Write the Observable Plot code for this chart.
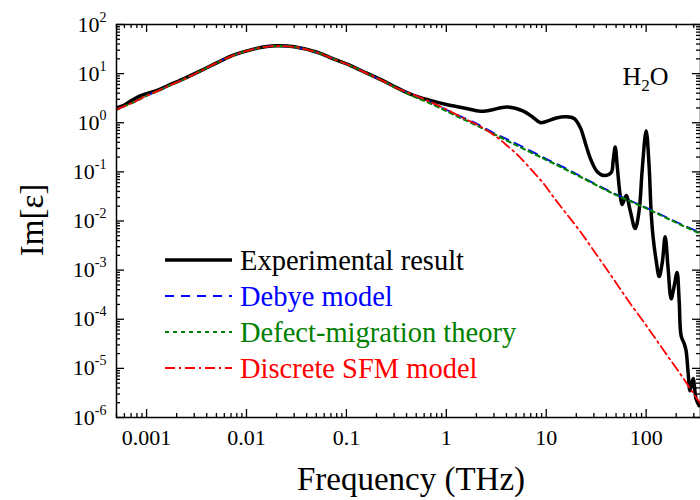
<!DOCTYPE html>
<html><head><meta charset="utf-8">
<script src="https://cdn.jsdelivr.net/npm/d3@7"></script>
<script src="https://cdn.jsdelivr.net/npm/@observablehq/plot@0.6"></script>
<style>body{margin:0;background:#fff;}</style>
</head><body><div id="chart"></div>
<script>
// ---- data ----
const expFreq = [0.0005, 0.0006, 0.00072, 0.00085, 0.001, 0.0013, 0.0016, 0.0024, 0.0035, 0.0051, 0.0075, 0.011, 0.016, 0.020, 0.030, 0.051, 0.074, 0.11, 0.16, 0.23, 0.33, 0.47, 0.69, 1.0, 1.5, 2.2, 2.75, 4.07, 5.9, 7.4, 8.7, 10, 12.6, 15.8, 19, 21.9, 25.1, 28.2, 32.4, 38, 44.7, 46.8, 49, 51.3, 55, 57.5, 63.1, 69.2, 77.6, 85.1, 91.2, 100, 107, 112, 117, 126, 135, 145, 155, 166, 178, 191, 204, 214, 224, 240, 251, 263, 275, 295, 316, 339];
const expIm = [2.0, 2.3, 2.9, 3.5, 3.9, 4.6, 5.6, 8.0, 11.5, 16.8, 24, 30.5, 35.5, 36.8, 35.3, 27.2, 20, 14.6, 10.2, 7.3, 5.0, 3.6, 2.85, 2.35, 2.0, 1.71, 1.8, 2.09, 1.73, 1.28, 1.01, 1.06, 1.25, 1.32, 1.22, 0.80, 0.34, 0.17, 0.101, 0.084, 0.097, 0.17, 0.32, 0.134, 0.033, 0.0216, 0.033, 0.0163, 0.0070, 0.0163, 0.106, 0.69, 0.134, 0.0163, 0.00505, 0.00156, 0.00074, 0.00142, 0.0048, 0.00107, 0.00026, 0.00048, 0.00089, 0.00024, 4.6e-5, 3.2e-5, 2.3e-5, 8.2e-6, 3.5e-6, 6.2e-6, 2.4e-6, 1.74e-6];

const debyeFreq = [0.0005, 0.00075, 0.001, 0.0013, 0.0016, 0.0024, 0.0035, 0.0051, 0.0075, 0.011, 0.016, 0.020, 0.030, 0.051, 0.074, 0.11, 0.16, 0.23, 0.30, 0.44, 0.64, 0.87, 1.33, 2.03, 2.86, 3.89, 5.1, 7.46, 10.2, 14.9, 21.9, 47, 101, 219, 350];
const debyeIm = [1.85, 2.65, 3.55, 4.45, 5.45, 7.8, 11.4, 16.8, 23.8, 30.5, 35.3, 36.5, 35, 27, 20, 14.5, 10.1, 7.2, 5.4, 3.9, 2.85, 2.1, 1.40, 0.95, 0.65, 0.48, 0.37, 0.25, 0.18, 0.125, 0.082, 0.037, 0.0185, 0.0088, 0.0058];

const defectFreq = [0.0005, 0.00075, 0.001, 0.0013, 0.0016, 0.0024, 0.0035, 0.0051, 0.0075, 0.011, 0.016, 0.020, 0.030, 0.051, 0.074, 0.11, 0.16, 0.23, 0.30, 0.47, 0.70, 1.14, 2.19, 4.37, 10.2, 20.3, 47, 101, 219, 350];
const defectIm = [1.85, 2.65, 3.55, 4.45, 5.45, 7.8, 11.4, 16.8, 23.8, 30.5, 35.3, 36.5, 35, 27, 20, 14.5, 10.1, 7.2, 5.4, 3.45, 2.45, 1.52, 0.81, 0.40, 0.172, 0.086, 0.036, 0.018, 0.0085, 0.0055];

const sfmFreq = [0.0005, 0.00075, 0.001, 0.0013, 0.0016, 0.0024, 0.0035, 0.0051, 0.0075, 0.011, 0.016, 0.020, 0.030, 0.051, 0.074, 0.11, 0.16, 0.23, 0.30, 0.55, 0.87, 1.4, 2.19, 3.24, 4.07, 5.25, 6.92, 9.33, 11.7, 15.5, 21.9, 32.4, 46.8, 69.2, 102, 155, 219, 275, 350];
const sfmIm = [1.85, 2.65, 3.55, 4.45, 5.45, 7.8, 11.4, 16.8, 23.8, 30.5, 35.3, 36.5, 35, 27, 20, 14.5, 10.1, 7.2, 5.4, 3.26, 2.15, 1.32, 0.84, 0.50, 0.34, 0.215, 0.117, 0.059, 0.0316, 0.0151, 0.0061, 0.00197, 0.00067, 0.00021, 7.1e-5, 2.1e-5, 7.8e-6, 3.9e-6, 1.9e-6];

const xTickValues = [0.001, 0.01, 0.1, 1, 10, 100];
const xTickLabels = ["0.001", "0.01", "0.1", "1", "10", "100"];
const yExponents = [-6, -5, -4, -3, -2, -1, 0, 1, 2];

const seriesNames = ["Experimental result", "Debye model", "Defect-migration theory", "Discrete SFM model"];
const seriesColors = ["#000000", "#0000ff", "#008000", "#ff0000"];
const seriesDash = [null, "9,7", "4,4", "10,4,2,4"];
const seriesWidth = [3.5, 1.8, 2.2, 1.8];

// ---- build ----
const W = 700, H = 500, mL = 116, mR = 0, mT = 24, mB = 83;
const plotW = W - mL - mR, plotH = H - mT - mB;
const yTickValues = yExponents.map(e => Math.pow(10, e));
const xMinor = [], yMinor = [];
for (let e = -4; e <= 2; e++) for (let m = 2; m <= 9; m++) { const v = m * Math.pow(10, e); if (v >= 0.0005 && v <= 350) xMinor.push(v); }
for (let e = -6; e <= 1; e++) for (let m = 2; m <= 9; m++) yMinor.push(m * Math.pow(10, e));

const toRows = (fs, vs) => fs.map((f, i) => ({f, v: vs[i]}));
const lineSets = [toRows(expFreq, expIm), toRows(debyeFreq, debyeIm), toRows(defectFreq, defectIm), toRows(sfmFreq, sfmIm)];

const tickStyle = {stroke: "black", strokeWidth: 1.3};
const chart = Plot.plot({
  width: W, height: H,
  marginLeft: mL, marginRight: mR, marginTop: mT, marginBottom: mB,
  x: {type: "log", domain: [0.0005, 350]},
  y: {type: "log", domain: [1e-6, 1e2]},
  style: {fontFamily: "'Liberation Serif', 'Times New Roman', serif", fontSize: "22px", color: "black", background: "white", overflow: "visible"},
  marks: [
    Plot.axisX({ticks: xTickValues, anchor: "bottom", tickSize: 0, tickPadding: 12, tickFormat: d => xTickLabels[xTickValues.indexOf(d)], label: null, fontSize: 22}),
    Plot.axisY({ticks: yTickValues, anchor: "left", tickSize: 0, tickPadding: 10, tickFormat: d => "10^" + yExponents[yTickValues.indexOf(d)], label: null, fontSize: 22}),
    // inward ticks on all four sides
    Plot.tickX(xTickValues, {x: d => d, insetTop: plotH - 8, ...tickStyle}),
    Plot.tickX(xTickValues, {x: d => d, insetBottom: plotH - 8, ...tickStyle}),
    Plot.tickX(xMinor, {x: d => d, insetTop: plotH - 4, ...tickStyle}),
    Plot.tickX(xMinor, {x: d => d, insetBottom: plotH - 4, ...tickStyle}),
    Plot.tickY(yTickValues, {y: d => d, insetRight: plotW - 8, ...tickStyle}),
    Plot.tickY(yTickValues, {y: d => d, insetLeft: plotW - 8, ...tickStyle}),
    Plot.tickY(yMinor, {y: d => d, insetRight: plotW - 4, ...tickStyle}),
    Plot.tickY(yMinor, {y: d => d, insetLeft: plotW - 4, ...tickStyle}),
    ...lineSets.map((rows, i) => Plot.line(rows, {
      x: "f", y: "v", curve: "catmull-rom", clip: true,
      stroke: seriesColors[i], strokeWidth: seriesWidth[i],
      strokeDasharray: seriesDash[i] ?? undefined, strokeLinejoin: "round"
    })),
    Plot.text(["H2O"], {frameAnchor: "top-right", dx: -32, dy: 42, textAnchor: "end", fontSize: 26, text: d => d}),
    Plot.frame({stroke: "black", strokeWidth: 1.5})
  ]
});

const svg = d3.select(chart);
// superscript exponents on y tick labels
svg.selectAll('g[aria-label="y-axis tick label"] text').each(function () {
  const t = this.textContent;
  const [base, ex] = t.split("^");
  const s = d3.select(this);
  s.text(base);
  s.append("tspan").attr("dy", -10).attr("font-size", 14).text(ex);
});
// subscript in H2O
svg.selectAll('g[aria-label="text"] text').each(function () {
  if (this.textContent === "H2O") {
    const s = d3.select(this);
    s.text("H");
    s.append("tspan").attr("dy", 6).attr("font-size", 17).text("2");
    s.append("tspan").attr("dy", -6).text("O");
  }
});
// axis titles
svg.append("text").attr("x", mL + plotW / 2 + 3).attr("y", 490).attr("text-anchor", "middle")
  .attr("font-size", 33).attr("fill", "black").text("Frequency (THz)");
svg.append("text").attr("transform", `translate(43,${220}) rotate(-90)`).attr("text-anchor", "middle")
  .attr("font-size", 33).attr("fill", "black").text("Im[ε]");
// legend
const lg = svg.append("g").attr("font-size", 28.5).attr("text-anchor", "start");
seriesNames.forEach((name, i) => {
  const y = 260 + i * 36;
  lg.append("line").attr("x1", 165).attr("x2", 232).attr("y1", y).attr("y2", y)
    .attr("stroke", seriesColors[i]).attr("stroke-width", seriesWidth[i])
    .attr("stroke-dasharray", seriesDash[i]);
  lg.append("text").attr("x", 240).attr("y", y + 10).attr("text-anchor", "start")
    .attr("fill", seriesColors[i]).text(name);
});
document.getElementById("chart").appendChild(chart);
</script>
</body></html>
